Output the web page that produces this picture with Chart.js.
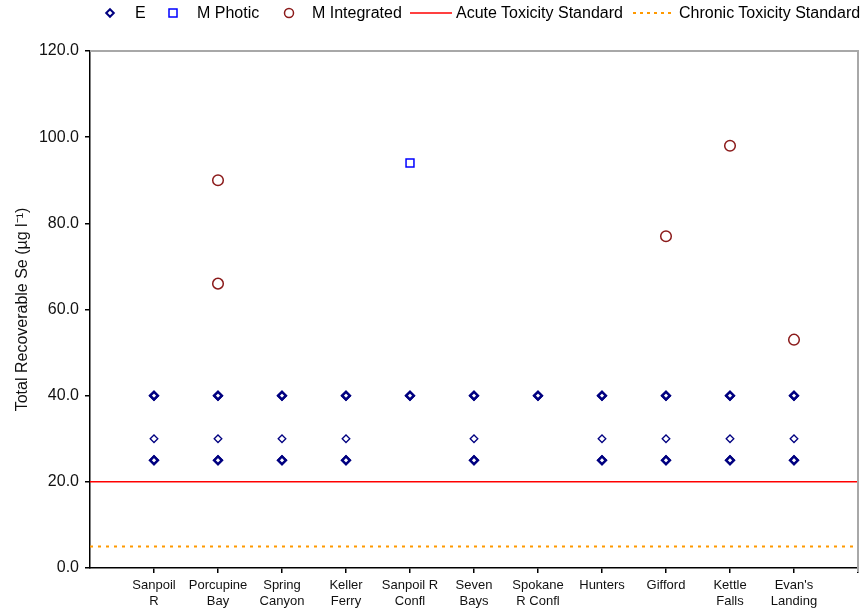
<!DOCTYPE html>
<html><head><meta charset="utf-8">
<script src="https://cdn.jsdelivr.net/npm/chart.js@4.4.1/dist/chart.umd.min.js"></script>
<style>
html,body{margin:0;padding:0;background:#fff;}
#wrap{position:relative;width:867px;height:611px;}
#legend{position:absolute;left:0;top:0;width:867px;height:28px;font:16px "Liberation Sans",Arial,sans-serif;color:#000;}
.li{position:absolute;top:4px;height:18px;line-height:18px;white-space:nowrap;}
svg.ic{position:absolute;top:0;}
</style></head><body>
<div id="wrap"><canvas id="c" width="867" height="611"></canvas><div id="legend"></div></div>
<script>
// ---- data ----
const sites = [["Sanpoil","R"],["Porcupine","Bay"],["Spring","Canyon"],["Keller","Ferry"],["Sanpoil R","Confl"],["Seven","Bays"],["Spokane","R Confl"],["Hunters"],["Gifford"],["Kettle","Falls"],["Evan's","Landing"]];
const eSampleA = [40,40,40,40,40,40,40,40,40,40,40];
const eSampleB = [40,40,40,40,40,40,40,40,40,40,40];
const eSampleC = [30,30,30,30,null,30,null,30,30,30,30];
const eSampleD = [25,25,25,25,null,25,null,25,25,25,25];
const eSampleE = [25,25,25,25,null,25,null,25,25,25,25];
const mPhotic = [null,null,null,null,94,null,null,null,null,null,null];
const mIntegratedA = [null,90,null,null,null,null,null,null,77,98,53];
const mIntegratedB = [null,66,null,null,null,null,null,null,null,null,null];
const acuteStandard = 20;
const chronicStandard = 5;
const yTicks = [0,20,40,60,80,100,120];

function toPoints(arr){ const out=[]; arr.forEach((v,i)=>{ if(v!==null) out.push({x:i+1,y:v}); }); return out; }
const ePoints = [].concat(toPoints(eSampleA),toPoints(eSampleB),toPoints(eSampleC),toPoints(eSampleD),toPoints(eSampleE));
const photicPoints = toPoints(mPhotic);
const integratedPoints = [].concat(toPoints(mIntegratedA),toPoints(mIntegratedB));
const xMax = sites.length + 1;
function dupCount(p){ return ePoints.filter(q=>q.x===p.x && q.y===p.y).length; }

// ---- legend (HTML) ----
const legendItems = [
  {label:'E', icon:'diamond', ix:110, tx:135},
  {label:'M Photic', icon:'square', ix:173, tx:197},
  {label:'M Integrated', icon:'circle', ix:289, tx:312},
  {label:'Acute Toxicity Standard', icon:'line', ix:431, tx:456},
  {label:'Chronic Toxicity Standard', icon:'dash', ix:654, tx:679}
];
const lg = document.getElementById('legend');
legendItems.forEach(it=>{
  let svg='';
  if(it.icon==='diamond') svg=`<svg class="ic" width="12" height="18" style="left:${it.ix-6}px;top:4px"><path d="M6 5.2 L9.8 9 L6 12.8 L2.2 9 Z" fill="#fff" stroke="#000080" stroke-width="2"/></svg>`;
  if(it.icon==='square') svg=`<svg class="ic" width="12" height="18" style="left:${it.ix-6}px;top:4px"><rect x="2" y="5" width="8" height="8" fill="#fff" stroke="#0000ff" stroke-width="1.5"/></svg>`;
  if(it.icon==='circle') svg=`<svg class="ic" width="14" height="18" style="left:${it.ix-7}px;top:4px"><circle cx="7" cy="9" r="4.5" fill="#fff" stroke="#8b1a1a" stroke-width="1.5"/></svg>`;
  if(it.icon==='line') svg=`<svg class="ic" width="42" height="18" style="left:${it.ix-21}px;top:4px"><line x1="0" y1="9" x2="42" y2="9" stroke="#ff0000" stroke-width="1.5"/></svg>`;
  if(it.icon==='dash') svg=`<svg class="ic" width="42" height="18" style="left:${it.ix-21}px;top:4px"><line x1="0" y1="9" x2="42" y2="9" stroke="#ff9900" stroke-width="2" stroke-dasharray="3 4"/></svg>`;
  lg.insertAdjacentHTML('beforeend', svg + `<span class="li" style="left:${it.tx}px">${it.label}</span>`);
});

// ---- chart ----
const FONT = '"Liberation Sans", Arial, sans-serif';
const frame = {id:'frame', afterDatasetsDraw(c){
  const {ctx, chartArea:a} = c;
  ctx.save(); ctx.strokeStyle='#a8a8a8'; ctx.lineWidth=2;
  ctx.beginPath(); ctx.moveTo(a.left, a.top); ctx.lineTo(a.right, a.top); ctx.lineTo(a.right, a.bottom+4); ctx.stroke();
  ctx.restore();
}};

new Chart(document.getElementById('c'), {
  type:'scatter',
  data:{datasets:[
    {label:'E', data:ePoints, pointStyle:'rectRot', pointRadius:3.8,
      pointBorderWidth:(ctx)=> (ctx.raw && dupCount(ctx.raw)>1) ? 2.4 : 1.3,
      borderColor:'#000080', backgroundColor:'#ffffff', showLine:false},
    {label:'M Photic', data:photicPoints, pointStyle:'rect', pointRadius:5.6, pointBorderWidth:1.5, borderColor:'#0000ff', backgroundColor:'#ffffff', showLine:false},
    {label:'M Integrated', data:integratedPoints, pointStyle:'circle', pointRadius:5.3, pointBorderWidth:1.5, borderColor:'#8b1a1a', backgroundColor:'#ffffff', showLine:false},
    {label:'Acute Toxicity Standard', type:'line', data:[{x:0,y:acuteStandard},{x:xMax,y:acuteStandard}], borderColor:'#ff0000', borderWidth:1.5, pointRadius:0, fill:false},
    {label:'Chronic Toxicity Standard', type:'line', data:[{x:0,y:chronicStandard},{x:xMax,y:chronicStandard}], borderColor:'#ff9900', borderWidth:2, borderDash:[3,5], pointRadius:0, fill:false}
  ]},
  options:{
    animation:false, responsive:false, devicePixelRatio:1,
    layout:{padding:{top:51,right:9,left:0,bottom:0}},
    plugins:{legend:{display:false}, tooltip:{enabled:false}},
    scales:{
      x:{type:'linear', min:0, max:xMax,
        afterBuildTicks:s=>{ s.ticks = Array.from({length:xMax+1},(_,i)=>({value:i})); },
        ticks:{autoSkip:false, maxRotation:0, minRotation:0, padding:4, color:'#111',
          font:{family:FONT, size:13, lineHeight:1.25},
          callback:(v)=> sites[v-1] || ''},
        grid:{drawOnChartArea:false, tickLength:5, color:(ctx)=> (ctx.tick && ctx.tick.value===0) ? 'rgba(0,0,0,0)' : '#000', lineWidth:1.5},
        border:{color:'#000', width:1.5},
        afterFit:s=>{ s.height = 43; }
      },
      y:{min:0, max:120,
        afterBuildTicks:s=>{ s.ticks = yTicks.map(v=>({value:v})); },
        ticks:{padding:6, color:'#111', font:{family:FONT, size:16}, callback:v=>v.toFixed(1)},
        grid:{drawOnChartArea:false, tickLength:5, color:'#000', lineWidth:1.5},
        border:{color:'#000', width:1.5},
        title:{display:true, text:'Total Recoverable Se (µg l⁻¹)', color:'#111', font:{family:FONT, size:16}, padding:{top:13,bottom:0}},
        afterFit:s=>{ s.width = 90; }
      }
    }
  },
  plugins:[frame]
});
</script>
</body></html>
